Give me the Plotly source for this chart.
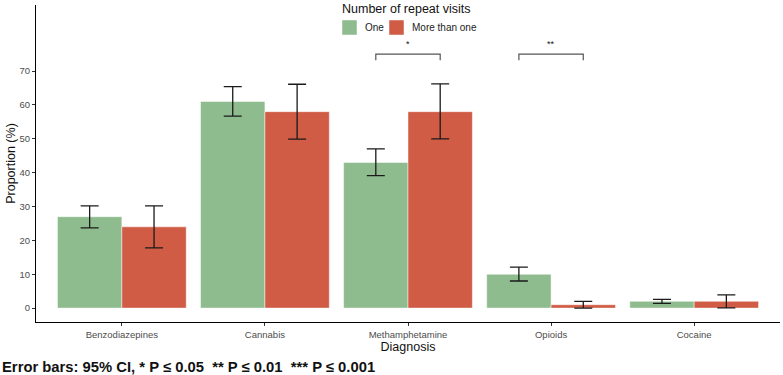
import plotly.graph_objects as go

categories = ["Benzodiazepines", "Cannabis", "Methamphetamine", "Opioids", "Cocaine"]
one_vals = [27.0, 61.0, 43.0, 10.0, 2.0]
one_lo = [23.7, 56.7, 39.1, 8.0, 1.4]
one_hi = [30.2, 65.4, 47.0, 12.1, 2.6]
more_vals = [24.0, 58.0, 58.0, 1.0, 2.0]
more_lo = [17.8, 49.9, 50.0, 0.0, 0.1]
more_hi = [30.2, 66.1, 66.2, 2.0, 3.9]
y_ticks = [0, 10, 20, 30, 40, 50, 60, 70]
sig_cats = ["Methamphetamine", "Opioids"]
sig_labels = ["*", "**"]
sig_y = 75.0
series_names = ["One", "More than one"]
legend_title = "Number of repeat visits"

GREEN = "#8FBC8F"
RED = "#D05C46"
colors = [GREEN, RED]

# plot area in pixels
L, R, T, B, W, H = 36, 3, 5, 53, 783, 375
PW, PH = W - L - R, H - T - B


def px(xp):
    return (xp - L) / PW


def py(yp):
    return (H - B - yp) / PH


fig = go.Figure()
for name, vals, lo, hi, col in [(series_names[0], one_vals, one_lo, one_hi, GREEN),
                                 (series_names[1], more_vals, more_lo, more_hi, RED)]:
    fig.add_trace(go.Bar(
        x=categories, y=vals, name=name, showlegend=False,
        marker=dict(color=col, line=dict(color="rgba(255,255,255,0.6)", width=0.8)),
        error_y=dict(type="data", symmetric=False,
                     array=[h - v for h, v in zip(hi, vals)],
                     arrayminus=[v - l for v, l in zip(vals, lo)],
                     color="#1a1a1a", thickness=1.3, width=9),
    ))

# significance brackets
for cat, lab in zip(sig_cats, sig_labels):
    i = categories.index(cat)
    x0, x1 = i - 0.225, i + 0.225
    fig.add_shape(type="path", xref="x", yref="y",
                  path=f"M {x0} {sig_y - 1.8} L {x0} {sig_y} L {x1} {sig_y} L {x1} {sig_y - 1.8}",
                  line=dict(color="#555555", width=1.2))
    fig.add_annotation(x=i, y=sig_y + 0.8, xref="x", yref="y", text=lab, showarrow=False,
                       yanchor="bottom", font=dict(size=9, color="#111111", family="Liberation Sans"))

# legend (drawn manually to match spacing)
fig.add_annotation(x=px(406), y=py(9), xref="paper", yref="paper", text=legend_title,
                   showarrow=False, xanchor="center", yanchor="middle",
                   font=dict(size=12.5, color="#111"))
sw_x = [342, 389]
for sx, name, col in zip(sw_x, series_names, colors):
    fig.add_shape(type="rect", xref="paper", yref="paper",
                  x0=px(sx), x1=px(sx + 15), y0=py(35), y1=py(20),
                  fillcolor=col, line=dict(color="rgba(255,255,255,0.6)", width=0.8))
    fig.add_annotation(x=px(sx + 21), y=py(27.5), xref="paper", yref="paper", text=name,
                       showarrow=False, xanchor="left", yanchor="middle",
                       font=dict(size=10, color="#222"))

fig.add_annotation(x=0, y=0, xref="paper", yref="paper", xanchor="left", yanchor="top",
                   xshift=-36, yshift=-35,
                   text="<b>Error bars: 95% CI, * P ≤ 0.05  ** P ≤ 0.01  *** P ≤ 0.001</b>",
                   showarrow=False, font=dict(size=14.8, color="#111", family="Liberation Sans"))

fig.update_layout(
    width=W, height=H,
    margin=dict(l=L, r=R, t=T, b=B, autoexpand=False),
    paper_bgcolor="white", plot_bgcolor="white",
    barmode="group", bargap=0.1, bargroupgap=0,
    font=dict(family="Liberation Sans", color="#222"),
    showlegend=False,
    xaxis=dict(range=[-0.6, 4.6], showline=True, linecolor="black", linewidth=1.2,
               automargin=False,
               ticks="outside", ticklen=3, tickcolor="#333", showgrid=False,
               tickfont=dict(size=9.5, color="#4d4d4d"),
               title=dict(text="Diagnosis", font=dict(size=12.5, color="#111"), standoff=1)),
    yaxis=dict(range=[-4.1, 89.5], showline=True, linecolor="black", linewidth=1.2,
               automargin=False,
               tickvals=y_ticks, ticks="outside", ticklen=3, tickcolor="#333",
               showgrid=False, zeroline=False,
               tickfont=dict(size=9.5, color="#4d4d4d"),
               title=dict(text="Proportion (%)", font=dict(size=12.5, color="#111"), standoff=1)),
)

fig.write_html("out.html", config={"displayModeBar": False},
               post_script="document.body.style.margin='0';document.body.style.overflow='hidden';")
